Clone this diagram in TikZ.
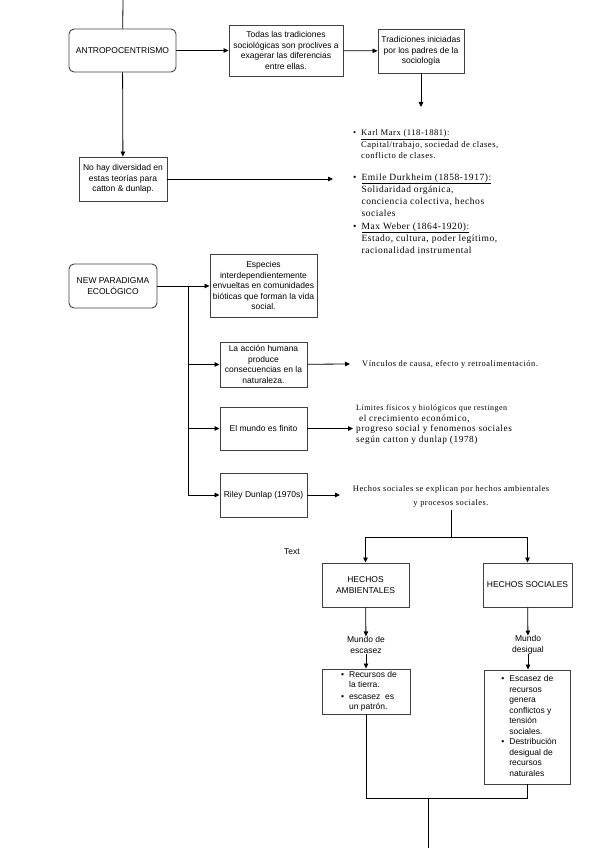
\documentclass[tikz,border=0pt]{standalone}
\usepackage{fontspec}
\setmainfont{Liberation Serif}
\setsansfont{Liberation Sans}
\newfontfamily\notefont[LetterSpace=6]{Liberation Serif}
\usetikzlibrary{arrows.meta, positioning}

\begin{document}
\begin{tikzpicture}[
  x=1pt, y=-1pt,
  box/.style={draw=black!75, line width=0.9pt, align=center, inner sep=1pt,
              font=\sffamily\fontsize{8.5}{10.5}\selectfont},
  rbox/.style={box, rounded corners=5pt},
  lbl/.style={align=center, inner sep=0pt, font=\sffamily\fontsize{8.5}{10.5}\selectfont},
  note/.style={inner sep=0pt, font=\notefont\fontsize{8}{11}\selectfont},
  arr/.style={-{Triangle[length=5pt, width=4.5pt]}, line width=0.8pt},
  ln/.style={line width=0.8pt}]
\useasboundingbox (0,0) rectangle (599,848);

\node[rbox, minimum width=107pt, minimum height=43pt] (antro) at (122.5,50.5) {ANTROPOCENTRISMO};
\node[box, minimum width=114pt, minimum height=51pt] (todas) at (286,50.5)
  {Todas las tradiciones\\ sociológicas son proclives a\\ exagerar las diferencias\\ entre ellas.};
\node[box, minimum width=86pt, minimum height=44pt] (trad) at (421,51)
  {Tradiciones iniciadas\\ por los padres de la\\ sociología};
\node[box, minimum width=88pt, minimum height=44pt] (nohay) at (123,179)
  {No hay diversidad en\\ estas teorías para\\ catton \& dunlap.};
\coordinate (top) at (123,0);
\coordinate (tradtip) at (421,107);
\coordinate (nohaytip) at (333,179);

\node[note, anchor=base west, font=\notefont\fontsize{8.6}{11}\selectfont] (marx) at (353,135.5)
  {\begin{tabular}[t]{@{}l@{\hspace{5pt}}l@{}}
   \textbullet & \underline{Karl Marx (118-1881):}\\
   & Capital/trabajo, sociedad de clases,\\
   & conflicto de clases.
   \end{tabular}};
\node[note, anchor=base west, font=\notefont\fontsize{9.5}{12.2}\selectfont] (durk) at (353,180)
  {\begin{tabular}[t]{@{}l@{\hspace{5pt}}l@{}}
   \textbullet & \underline{Emile Durkheim (1858-1917):}\\
   & Solidaridad orgánica,\\
   & conciencia colectiva, hechos\\
   & sociales
   \end{tabular}};
\node[note, anchor=base west, font=\notefont\fontsize{9.5}{12.2}\selectfont] (weber) at (353,229)
  {\begin{tabular}[t]{@{}l@{\hspace{5pt}}l@{}}
   \textbullet & \underline{Max Weber (1864-1920):}\\
   & Estado, cultura, poder legítimo,\\
   & racionalidad instrumental
   \end{tabular}};

\draw[ln] (top) -- (antro);
\draw[arr] (antro) -- (todas);
\draw[arr] (todas) -- (trad);
\draw[arr] (trad) -- (tradtip);
\draw[arr] (antro) -- (nohay);
\draw[arr] (nohay) -- (nohaytip);

\node[rbox, minimum width=88pt, minimum height=44pt] (newp) at (113,286) {NEW PARADIGMA\\ ECOLÓGICO};
\node[box, minimum width=107pt, minimum height=63pt] (especies) at (263.5,285.5)
  {Especies\\ interdependientemente\\ envueltas en comunidades\\ bióticas que forman la vida\\ social.};
\node[box, minimum width=87pt, minimum height=45pt] (accion) at (263.5,364.5)
  {La acción humana\\ produce\\ consecuencias en la\\ naturaleza.};
\node[box, minimum width=87pt, minimum height=43pt] (finito) at (263.5,428.5) {El mundo es finito};
\node[box, minimum width=87pt, minimum height=44pt] (riley) at (263.5,495) {Riley Dunlap (1970s)};
\coordinate (trunk) at (188,286);

\node[note, anchor=west, font=\notefont\fontsize{8.4}{11}\selectfont] (vinc) at (362,364)
  {Vínculos de causa, efecto y retroalimentación.};
\node[note, anchor=base west, font=\notefont\fontsize{9.3}{10.7}\selectfont] (limites) at (356,410.5)
  {\begin{tabular}[t]{@{}l@{}}
   {\fontsize{8}{10.7}\selectfont Límites físicos y biológicos que restingen}\\
   \ el crecimiento económico,\\
   progreso social y fenomenos sociales\\
   según catton y dunlap (1978)
   \end{tabular}};
\node[note, anchor=base, font=\notefont\fontsize{8.4}{14}\selectfont] (hechos) at (451,491.5)
  {\begin{tabular}[t]{@{}c@{}}
   Hechos sociales se explican por hechos ambientales\\
   y procesos sociales.
   \end{tabular}};
\coordinate (vinctip) at (350,364);
\coordinate (limtip) at (353,428.5);
\coordinate (hechostip) at (340,495);

\draw[arr] (newp.east) -- (newp.east -| especies.west);
\draw[arr] (trunk) |- (riley);
\draw[arr] (trunk |- accion) -- (accion);
\draw[arr] (trunk |- finito) -- (finito);
\draw[arr] (accion) -- (vinctip);
\draw[arr] (finito) -- (limtip);
\draw[arr] (riley) -- (hechostip);

\node[lbl] (txt) at (292,552) {Text};
\node[box, minimum width=87pt, minimum height=44pt] (amb) at (365.5,585) {HECHOS\\ AMBIENTALES};
\node[box, minimum width=89pt, minimum height=44pt] (soc) at (527.5,585) {HECHOS SOCIALES};
\node[lbl] (escasez) at (366,645) {Mundo de\\ escasez};
\node[lbl] (desigual) at (528,645) {Mundo\\ desigual};
\node[box, minimum width=88pt, minimum height=43pt] (lbul) at (366,691.5)
  {\hspace*{6pt}\begin{tabular}{@{}l@{\hspace{5pt}}l@{}}
   \textbullet & Recursos de\\
   & la tierra.\\[1pt]
   \textbullet & escasez\ \ es\\
   & un patrón.
   \end{tabular}};
\node[box, minimum width=86pt, minimum height=114pt] (rbul) at (527,727)
  {\hspace*{4pt}\begin{tabular}{@{}l@{\hspace{5pt}}l@{}}
   \textbullet & Escasez de\\
   & recursos\\
   & genera\\
   & conflictos y\\
   & tensión\\
   & sociales.\\
   \textbullet & Destribución\\
   & desigual de\\
   & recursos\\
   & naturales
   \end{tabular}};
\coordinate (split) at (451,537);
\coordinate (join) at (428,798);
\coordinate (bottom) at (428,848);

\draw[ln] (hechos.south) -- (split);
\draw[arr] (split) -| (amb);
\draw[arr] (split) -| (soc);
\draw[arr] (amb) -- (escasez);
\draw[arr] (soc) -- (desigual);
\draw[arr] (escasez) -- (lbul);
\draw[arr] (desigual) -- (rbul.north -| desigual);
\draw[ln] (lbul.south) |- (join) -| (rbul.south);
\draw[ln] (join) -- (bottom);
\end{tikzpicture}
\end{document}
